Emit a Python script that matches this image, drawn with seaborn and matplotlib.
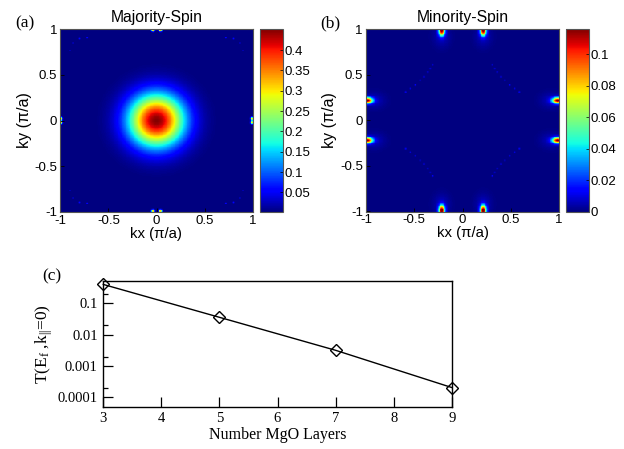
import numpy as np
import pandas as pd
import matplotlib
matplotlib.use("Agg")
import matplotlib.pyplot as plt
import seaborn as sns
from matplotlib.ticker import FixedLocator, NullFormatter

# ---------------- data ----------------
# panel (a): majority-spin transmission, a single bright spot at Gamma
maj_center_kx = [0.0]
maj_center_ky = [0.0]
maj_peak = [0.45]
maj_sigma = [0.20]
# tiny hot spots sitting on the zone edges in (a)
maj_edge_kx = [-0.035, 0.04, -0.035, 0.04, -0.995, -0.995, 0.995, 0.995]
maj_edge_ky = [0.995, 0.995, -0.995, -0.995, 0.02, -0.02, 0.02, -0.02]
maj_edge_amp = [0.33, 0.33, 0.33, 0.33, 0.33, 0.33, 0.33, 0.33]
# faint dotted arcs near the corners of (a)
maj_dot_kx = [-0.90, -0.87, -0.80, -0.72, 0.90, 0.87, 0.80, 0.72,
              -0.90, -0.87, -0.80, -0.72, 0.90, 0.87, 0.80, 0.72]
maj_dot_ky = [0.77, 0.85, 0.90, 0.91, 0.77, 0.85, 0.90, 0.91,
              -0.77, -0.85, -0.90, -0.91, -0.77, -0.85, -0.90, -0.91]
maj_dot_amp = [0.06] * 16

# panel (b): minority-spin transmission, hot spots at the zone edges
min_spot_kx = [-0.215, 0.215, -0.215, 0.215, -0.99, -0.99, 0.99, 0.99]
min_spot_ky = [0.99, 0.99, -0.99, -0.99, 0.22, -0.22, 0.22, -0.22]
min_spot_amp = [0.118] * 8
# faint arcs (first quadrant, mirrored into the other three)
min_arc_kx = [0.31, 0.335, 0.36, 0.40, 0.44, 0.49, 0.54, 0.59]
min_arc_ky = [0.61, 0.57, 0.53, 0.48, 0.44, 0.39, 0.35, 0.31]
min_arc_amp = [0.012, 0.008, 0.011, 0.013, 0.008, 0.012, 0.009, 0.011]

# panel (c): T(E_f, k_par = 0) versus number of MgO layers
layers = [3, 5, 7, 9]
transmission = [0.40, 0.0357, 0.00316, 0.000205]

kx_ticks = [-1, -0.5, 0, 0.5, 1]
kx_ticklabels = ["-1", "-0.5", "0", "0.5", "1"]
cbar_a_ticks = [0.05, 0.1, 0.15, 0.2, 0.25, 0.3, 0.35, 0.4]
cbar_a_labels = ["0.05", "0.1", "0.15", "0.2", "0.25", "0.3", "0.35", "0.4"]
cbar_b_ticks = [0, 0.02, 0.04, 0.06, 0.08, 0.1]
cbar_b_labels = ["0", "0.02", "0.04", "0.06", "0.08", "0.1"]
c_xticks = [3, 4, 5, 6, 7, 8, 9]
c_xticklabels = ["3", "4", "5", "6", "7", "8", "9"]
c_yticks = [1e-4, 1e-3, 1e-2, 1e-1]
c_yticklabels = ["0.0001", "0.001", "0.01", "0.1"]
c_yminor = [2e-4, 2e-3, 2e-2, 2e-1]

# ---------------- build k-space grids ----------------
NK = 241
k = np.linspace(-1, 1, NK)
KX, KY = np.meshgrid(k, k[::-1])  # top row = ky = +1


def blob(x0, y0, amp, sx, sy):
    return amp * np.exp(-((KX - x0) ** 2 / (2 * sx ** 2) + (KY - y0) ** 2 / (2 * sy ** 2)))


Za = np.zeros_like(KX)
for x0, y0, a, s in zip(maj_center_kx, maj_center_ky, maj_peak, maj_sigma):
    Za += blob(x0, y0, a, s, s)
for x0, y0, a in zip(maj_edge_kx, maj_edge_ky, maj_edge_amp):
    Za += blob(x0, y0, a, 0.012, 0.012)
for x0, y0, a in zip(maj_dot_kx, maj_dot_ky, maj_dot_amp):
    Za += blob(x0, y0, a, 0.006, 0.006)

Zb = np.zeros_like(KX)
for x0, y0, a in zip(min_spot_kx, min_spot_ky, min_spot_amp):
    if abs(y0) > 0.9:
        Zb += blob(x0, y0, a, 0.022, 0.04)
        Zb += blob(x0, y0 * 0.93, 0.006, 0.06, 0.08)
    else:
        Zb += blob(x0, y0, a, 0.04, 0.022)
        Zb += blob(x0 * 0.93, y0, 0.006, 0.08, 0.06)
for sx_ in (-1, 1):
    for sy_ in (-1, 1):
        for x0, y0, a in zip(min_arc_kx, min_arc_ky, min_arc_amp):
            Zb += blob(sx_ * x0, sy_ * y0, a, 0.007, 0.007)

df_a = pd.DataFrame(Za, index=k[::-1], columns=k)
df_b = pd.DataFrame(Zb, index=k[::-1], columns=k)

# ---------------- figure ----------------
plt.rcParams["font.family"] = ["Liberation Sans", "DejaVu Sans"]
plt.rcParams["mathtext.fontset"] = "custom"
plt.rcParams["mathtext.rm"] = "Liberation Serif"
plt.rcParams["mathtext.it"] = "Liberation Serif:italic"

W, H = 624, 449
fig = plt.figure(figsize=(W / 100, H / 100), dpi=100)


def px_axes(left, top, right, bottom):
    return fig.add_axes([left / W, 1 - bottom / H, (right - left) / W, (bottom - top) / H])


def kpos_x(v):
    return (v + 1) * (NK - 1) / 2 + 0.5


def kpos_y(v):
    return (1 - v) * (NK - 1) / 2 + 0.5


serif = ["Liberation Serif", "DejaVu Serif"]


def heat_panel(ax, cax, df, vmin, vmax, cticks, clabels, title, tag, tagx):
    sns.heatmap(df, ax=ax, cbar_ax=cax, cmap="jet", vmin=vmin, vmax=vmax,
                xticklabels=False, yticklabels=False, rasterized=True)
    ax.set_xticks([kpos_x(v) for v in kx_ticks])
    ax.set_xticklabels(kx_ticklabels, fontsize=9.5)
    ax.set_yticks([kpos_y(v) for v in kx_ticks])
    ax.set_yticklabels(kx_ticklabels, fontsize=9.5, rotation=0)
    ax.tick_params(direction="in", length=3, width=0.6, pad=2, colors="black")
    for s in ax.spines.values():
        s.set_visible(True)
        s.set_color("#555555")
        s.set_linewidth(0.8)
    ax.set_xlabel("kx (π/a)", fontsize=10.8, labelpad=0)
    ax.set_ylabel("ky (π/a)", fontsize=11.5, labelpad=2)
    ax.set_title(title, fontsize=11.3, pad=5)
    cb = ax.collections[0].colorbar
    cb.outline.set_linewidth(0.8)
    cb.outline.set_edgecolor("#555555")
    cb.set_ticks(cticks)
    cb.set_ticklabels(clabels)
    cax.tick_params(direction="in", length=2.5, width=0.5, pad=1, labelsize=9.5)
    fig.text(tagx / W, 1 - 23.5 / H, tag, fontsize=12.5, family=serif,
             ha="center", va="center")


ax_a = px_axes(60, 29, 253, 212)
cax_a = px_axes(260, 29, 283, 212)
heat_panel(ax_a, cax_a, df_a, 0.002, 0.452, cbar_a_ticks, cbar_a_labels,
           "Majority-Spin", "(a)", 24.5)

ax_b = px_axes(365.7, 29, 559.3, 211.7)
cax_b = px_axes(566, 29, 588.7, 211.7)
heat_panel(ax_b, cax_b, df_b, 0.0, 0.1159, cbar_b_ticks, cbar_b_labels,
           "Minority-Spin", "(b)", 330)

# ---------------- panel (c) ----------------
axc = px_axes(103.3, 281, 451.7, 406.7)
df_c = pd.DataFrame({"layers": layers, "T": transmission})
sns.lineplot(data=df_c, x="layers", y="T", ax=axc, color="black", linewidth=1.0,
             marker="D", markersize=5.8, markerfacecolor="none",
             markeredgecolor="black", markeredgewidth=1.0, clip_on=False)
axc.set_yscale("log")
axc.set_xlim(3, 9)
axc.set_ylim(5.0e-5, 0.515)
axc.set_xticks(c_xticks)
axc.set_xticklabels(c_xticklabels, family=serif, fontsize=10.5)
axc.yaxis.set_major_locator(FixedLocator(c_yticks))
axc.set_yticklabels(c_yticklabels, family=serif, fontsize=10.5)
axc.yaxis.set_minor_locator(FixedLocator(c_yminor))
axc.yaxis.set_minor_formatter(NullFormatter())
axc.xaxis.set_minor_locator(FixedLocator([]))
axc.tick_params(axis="both", which="major", direction="in", length=7.5, width=0.9,
                top=False, right=False, pad=4)
axc.tick_params(axis="y", which="minor", direction="in", length=3.8, width=0.9,
                right=False)
for s in axc.spines.values():
    s.set_linewidth(1.0)
    s.set_color("black")
axc.set_xlabel("Number MgO Layers", family=serif, fontsize=11.5, labelpad=1)
axc.set_ylabel(r"T(E$_{\mathrm{f}}$ ,k$_{\mathrm{||}}$=0)", family=serif, fontsize=12.5,
               labelpad=2)
fig.text(52 / W, 1 - 276 / H, "(c)", fontsize=12.5, family=serif, ha="center", va="center")

fig.savefig("out.png", dpi=100)
